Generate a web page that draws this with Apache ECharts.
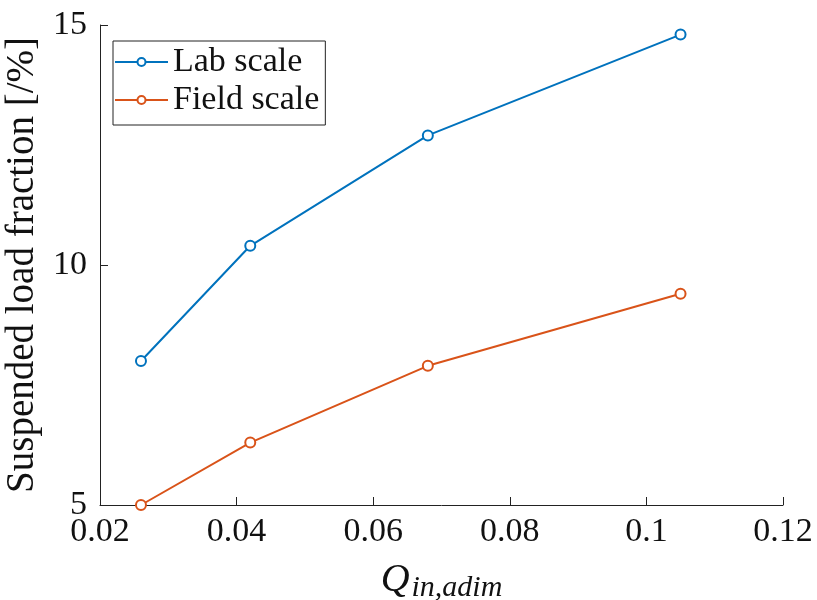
<!DOCTYPE html>
<html>
<head>
<meta charset="utf-8">
<script src="https://cdn.jsdelivr.net/npm/echarts@6/dist/echarts.min.js"></script>
<style>
  html, body { margin: 0; padding: 0; background: #fff; }
  #chart { width: 817px; height: 600px; }
</style>
</head>
<body>
<div id="chart"></div>
<script>
// Discharge (dimensionless) sampled at four settings
const qValues = [0.026, 0.042, 0.068, 0.105];
// Suspended load fraction [%] for each scale
const labScale = [8.0, 10.4, 12.7, 14.8];
const fieldScale = [5.0, 6.3, 7.9, 9.4];
const seriesNames = ['Lab scale', 'Field scale'];
const xTicks = [0.02, 0.04, 0.06, 0.08, 0.1, 0.12];
const yTicks = [5, 10, 15];

const serif = '"Liberation Serif", "DejaVu Serif", serif';
const pairs = (xs, ys) => xs.map((x, i) => [x, ys[i]]);

const chart = echarts.init(document.getElementById('chart'));
chart.setOption({
  animation: false,
  backgroundColor: '#fff',
  grid: { left: 100, right: 34, top: 25, bottom: 95, outerBoundsMode: 'none', containLabel: false },
  legend: {
    left: 113, top: 41,
    orient: 'vertical',
    borderColor: '#222', borderWidth: 1,
    padding: [4, 6, 8, 1],
    itemGap: 4,
    itemWidth: 53, itemHeight: 10,
    textStyle: { fontFamily: serif, fontSize: 34, color: '#111' },
    data: seriesNames
  },
  xAxis: {
    type: 'value',
    min: 0.02, max: 0.12, interval: 0.02,
    axisLine: { show: true, lineStyle: { color: '#222', width: 1 } },
    axisTick: { show: true, inside: true, length: 8, lineStyle: { color: '#222' } },
    splitLine: { show: false },
    axisLabel: {
      fontFamily: serif, fontSize: 34, color: '#111', margin: 10,
      formatter: v => {
        const hit = xTicks.find(t => Math.abs(t - v) < 1e-9);
        return hit === undefined ? '' : String(hit);
      }
    },
    name: '{q|Q}{s|in,adim}',
    nameLocation: 'middle',
    nameGap: 52,
    nameTextStyle: {
      rich: {
        q: { fontFamily: serif, fontStyle: 'italic', fontSize: 40, color: '#111' },
        s: { fontFamily: serif, fontStyle: 'italic', fontSize: 30, color: '#111', verticalAlign: 'bottom', padding: [16, 0, 0, 2] }
      }
    }
  },
  yAxis: {
    type: 'value',
    min: 5, max: 15, interval: 5,
    axisLine: { show: true, lineStyle: { color: '#222', width: 1 } },
    axisTick: { show: true, inside: true, length: 8, lineStyle: { color: '#222' } },
    splitLine: { show: false },
    axisLabel: {
      fontFamily: serif, fontSize: 34, color: '#111', margin: 13,
      formatter: v => (yTicks.includes(v) ? String(v) : '')
    },
    name: 'Suspended load fraction [/%]',
    nameLocation: 'middle',
    nameGap: 49,
    nameTextStyle: { fontFamily: serif, fontSize: 39, color: '#111' }
  },
  series: [
    {
      name: seriesNames[0], type: 'line',
      data: pairs(qValues, labScale),
      symbol: 'emptyCircle', symbolSize: 10,
      lineStyle: { color: '#0072BD', width: 2 },
      itemStyle: { color: '#0072BD', borderWidth: 2 },
      z: 3
    },
    {
      name: seriesNames[1], type: 'line',
      data: pairs(qValues, fieldScale),
      symbol: 'emptyCircle', symbolSize: 10,
      lineStyle: { color: '#D95319', width: 2 },
      itemStyle: { color: '#D95319', borderWidth: 2 },
      z: 3
    }
  ]
});
</script>
</body>
</html>
